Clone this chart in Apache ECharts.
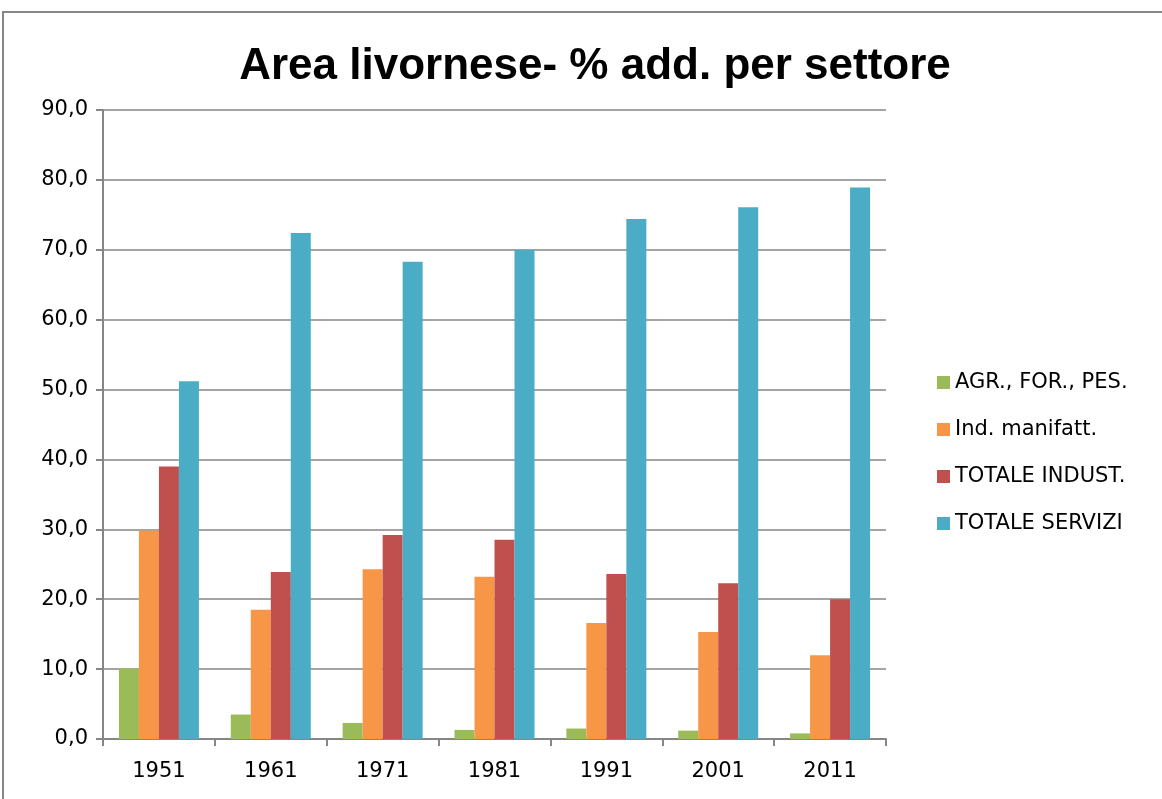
<!DOCTYPE html>
<html>
<head>
<meta charset="utf-8">
<script src="https://cdn.jsdelivr.net/npm/echarts@6/dist/echarts.min.js"></script>
<style>
  html, body { margin: 0; padding: 0; background: #fff; }
  #chart { width: 1162px; height: 799px; }
</style>
</head>
<body>
<div id="chart"></div>
<script>
// anni
var years = ['1951', '1961', '1971', '1981', '1991', '2001', '2011'];
// nomi serie
var seriesNames = ['AGR., FOR., PES.', 'Ind. manifatt.', 'TOTALE INDUST.', 'TOTALE SERVIZI'];
// valori % per settore
var agr = [10.1, 3.5, 2.3, 1.3, 1.5, 1.2, 0.8];
var manif = [29.8, 18.5, 24.3, 23.2, 16.6, 15.3, 12.0];
var indust = [39.0, 23.9, 29.2, 28.5, 23.6, 22.3, 20.0];
var servizi = [51.2, 72.4, 68.3, 70.0, 74.4, 76.1, 78.9];

var colors = ['#9bbb59', '#f79646', '#c0504d', '#4bacc6'];
var values = [agr, manif, indust, servizi];

var myChart = echarts.init(document.getElementById('chart'));

var series = seriesNames.map(function (name, i) {
    return {
        type: 'bar',
        name: name,
        data: values[i],
        barWidth: 20,
        barGap: '0%',
        itemStyle: { color: colors[i] }
    };
});

var labelFont = 'DejaVu Sans, Verdana, sans-serif';

myChart.setOption({
    animation: false,
    textStyle: { fontFamily: labelFont },
    // cornice esterna
    graphic: [{
        type: 'rect',
        shape: { x: 3, y: 12, width: 1170, height: 800 },
        style: { fill: 'none', stroke: '#868686', lineWidth: 2 }
    }],
    title: {
        text: 'Area livornese- % add. per settore',
        left: 590,
        top: 40,
        textAlign: 'center',
        textStyle: {
            fontFamily: 'Liberation Sans, Arial, sans-serif',
            fontSize: 44,
            fontWeight: 'bold',
            color: '#000'
        }
    },
    grid: {
        left: 103,
        right: 276,
        top: 110,
        bottom: 60,
        containLabel: false
    },
    legend: {
        orient: 'vertical',
        left: 932,
        top: 367,
        itemWidth: 13,
        itemHeight: 13,
        itemGap: 26,
        icon: 'rect',
        textStyle: { fontSize: 21, lineHeight: 21, color: '#000', fontFamily: labelFont },
        data: seriesNames
    },
    xAxis: {
        type: 'category',
        data: years,
        axisLine: { lineStyle: { color: '#868686', width: 2 } },
        axisTick: { show: true, length: 7, lineStyle: { color: '#868686', width: 2 } },
        axisLabel: { fontSize: 21, color: '#000', margin: 22 },
        splitLine: { show: false }
    },
    yAxis: {
        type: 'value',
        min: 0,
        max: 90,
        interval: 10,
        axisLine: { show: true, lineStyle: { color: '#868686', width: 2 } },
        axisTick: { show: true, length: 7, lineStyle: { color: '#868686', width: 2 } },
        axisLabel: {
            fontSize: 21,
            color: '#000',
            margin: 15,
            formatter: function (v) { return v.toFixed(1).replace('.', ','); }
        },
        splitLine: { lineStyle: { color: '#868686', width: 1.5 } }
    },
    series: series
});
</script>
</body>
</html>
